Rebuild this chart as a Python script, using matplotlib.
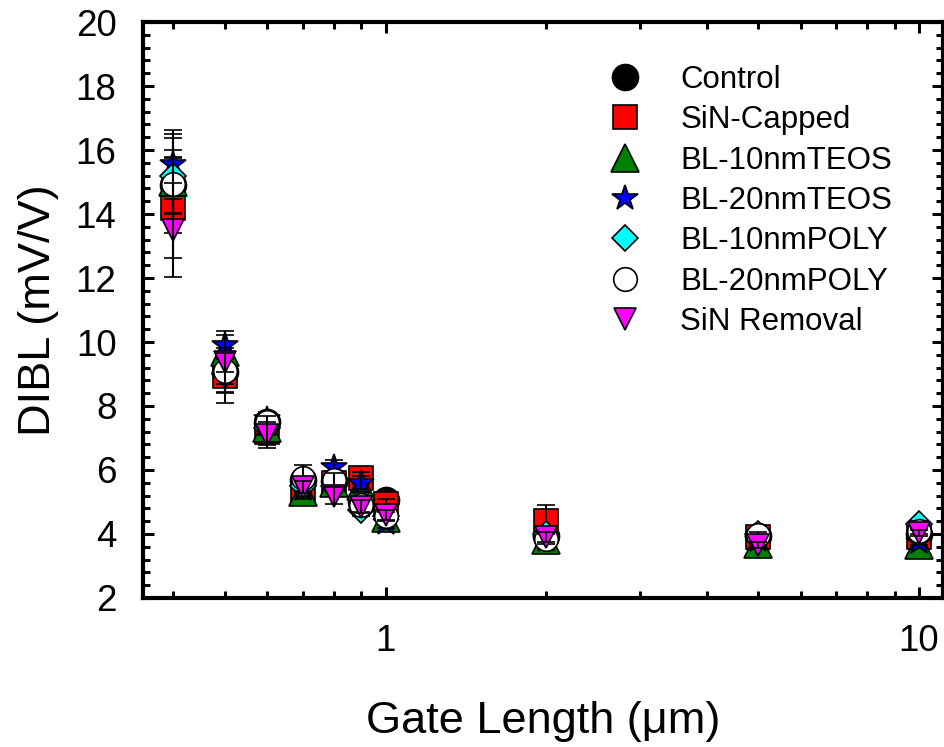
import numpy as np
import matplotlib
matplotlib.use("Agg")
import matplotlib.pyplot as plt
from matplotlib.ticker import LogLocator, MultipleLocator, FixedLocator, NullFormatter

plt.rcParams['font.family'] = ['Liberation Sans', 'DejaVu Sans']

# gate lengths (um)
gate_len = [0.4, 0.5, 0.6, 0.7, 0.8, 0.9, 1.0, 2, 5, 10]

# DIBL (mV/V) and error per process split
control = [14.9, 9.05, 7.5, 5.7, 5.65, 5.0, 5.05, 3.95, 3.95, 4.0]
control_err = [0.84, 0.96, 0.2, 0.2, 0.2, 0.2, 0.2, 0.2, 0.1, 0.1]

sin_capped = [14.2, 8.95, 7.2, 5.3, 5.6, 5.75, 4.95, 4.4, 3.9, 3.9]
sin_capped_err = [1.57, 0.5, 0.42, 0.15, 0.2, 0.2, 0.15, 0.5, 0.1, 0.1]

bl10_teos = [15.0, 9.7, 7.3, 5.3, 5.6, 5.5, 4.5, 3.8, 3.7, 3.65]
bl10_teos_err = [1.0, 0.52, 0.2, 0.2, 0.2, 0.2, 0.15, 0.15, 0.1, 0.1]

bl20_teos = [15.55, 9.9, 7.6, 5.4, 6.1, 5.6, 4.35, 3.8, 3.8, 3.75]
bl20_teos_err = [1.08, 0.44, 0.2, 0.2, 0.2, 0.2, 0.15, 0.15, 0.1, 0.1]

bl10_poly = [15.2, 9.0, 7.3, 5.5, 5.5, 4.75, 4.55, 4.0, 4.0, 4.3]
bl10_poly_err = [1.18, 0.3, 0.2, 0.2, 0.2, 0.2, 0.15, 0.15, 0.1, 0.1]

bl20_poly = [14.95, 9.1, 7.5, 5.75, 5.7, 4.9, 4.55, 3.85, 3.97, 4.1]
bl20_poly_err = [1.55, 0.7, 0.2, 0.41, 0.2, 0.2, 0.15, 0.15, 0.1, 0.1]

sin_removal = [13.5, 9.37, 7.1, 5.47, 5.2, 4.85, 4.6, 3.9, 3.65, 4.03]
sin_removal_err = [1.47, 0.3, 0.41, 0.2, 0.26, 0.2, 0.15, 0.15, 0.1, 0.1]

labels = ['Control', 'SiN-Capped', 'BL-10nmTEOS', 'BL-20nmTEOS',
          'BL-10nmPOLY', 'BL-20nmPOLY', 'SiN Removal']
values = [control, sin_capped, bl10_teos, bl20_teos, bl10_poly, bl20_poly, sin_removal]
errors = [control_err, sin_capped_err, bl10_teos_err, bl20_teos_err,
          bl10_poly_err, bl20_poly_err, sin_removal_err]
markers = ['o', 's', '^', '*', 'D', 'o', 'v']
colors = ['black', 'red', 'green', 'blue', 'cyan', 'white', 'magenta']
sizes = [18.7, 17.3, 20, 19, 13.7, 17, 16]

fig = plt.figure(figsize=(9.45, 7.47), dpi=100)
ax = fig.add_axes([0.1513, 0.1995, 0.8467, 0.771])

handles = []
for i in range(len(labels)):
    eb = ax.errorbar(gate_len, values[i], yerr=errors[i], fmt=markers[i],
                     ms=sizes[i], mfc=colors[i], mec='black', mew=1.2,
                     ecolor='black', elinewidth=1.5, capsize=6.5, capthick=1.5,
                     zorder=3 + i)
    eb[0].set_zorder(3 + i)
    for art in eb[1] + eb[2]:
        art.set_zorder(3 + i)
    handles.append(eb[0])

ax.set_xscale('log')
ax.set_xlim(0.351, 11.1)
ax.set_ylim(2, 20)

ax.xaxis.set_major_locator(FixedLocator([1, 10]))
ax.xaxis.set_minor_locator(LogLocator(base=10, subs=np.arange(2, 10)))
ax.xaxis.set_minor_formatter(NullFormatter())
ax.set_xticklabels(['1', '10'])
ax.yaxis.set_major_locator(MultipleLocator(2))
ax.yaxis.set_minor_locator(MultipleLocator(0.4))

for s in ax.spines.values():
    s.set_linewidth(3)
ax.tick_params(which='both', direction='in', top=True, right=True, width=2.2)
ax.tick_params(which='major', length=8, labelsize=26.5)
ax.tick_params(which='minor', length=5)
ax.tick_params(axis='x', which='major', pad=19)
ax.tick_params(axis='y', which='major', pad=19)

ax.set_xlabel('Gate Length (\u03bcm)', fontsize=32.5, labelpad=30)
ax.set_ylabel('DIBL (mV/V)', fontsize=32.5, labelpad=12)

ax.legend(handles=handles, labels=labels, loc='upper left',
          bbox_to_anchor=(0.645, 0.913), bbox_transform=fig.transFigure,
          frameon=False, fontsize=22.5, numpoints=1, handlelength=1.0,
          handletextpad=1.27, labelspacing=0.33, borderpad=0, borderaxespad=0)

fig.savefig('out.png', dpi=100)
